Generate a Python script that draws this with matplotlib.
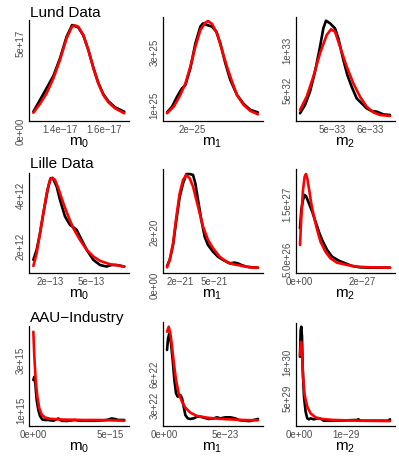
import numpy as np
import matplotlib
matplotlib.use('Agg')
import matplotlib.pyplot as plt

plt.rcParams['font.family'] = ['Liberation Sans', 'DejaVu Sans']
plt.rcParams['mathtext.fontset'] = 'custom'
plt.rcParams['mathtext.rm'] = 'Liberation Sans'
plt.rcParams['mathtext.it'] = 'Liberation Sans'

M = '\u2212'  # R draws '-' as a minus sign

row_titles = ['Lund Data', 'Lille Data', 'AAU' + M + 'Industry']
param_labels = [r'$m_0$', r'$m_1$', r'$m_2$']

# ---------------- Lund data ----------------
# m0: x in 1e-17, density in 1e17
lund_m0_x_emp = [1.279, 1.309, 1.339, 1.370, 1.400, 1.430, 1.455, 1.483, 1.506, 1.529, 1.552, 1.574, 1.597, 1.620, 1.650, 1.692]
lund_m0_y_emp = [0.36, 1.02, 1.69, 2.39, 3.39, 4.62, 5.28, 5.15, 4.70, 3.86, 2.85, 2.00, 1.35, 0.95, 0.61, 0.36]
lund_m0_x_fit = [1.279, 1.309, 1.339, 1.370, 1.400, 1.430, 1.453, 1.464, 1.483, 1.506, 1.529, 1.552, 1.574, 1.597, 1.620, 1.650, 1.692]
lund_m0_y_fit = [0.30, 0.80, 1.40, 2.25, 3.30, 4.53, 5.15, 5.28, 5.19, 4.72, 3.86, 2.82, 1.97, 1.31, 0.89, 0.55, 0.27]

# m1: x in 1e-25, density in 1e25
lund_m1_x_emp = [1.683, 1.746, 1.808, 1.871, 1.913, 1.975, 2.038, 2.100, 2.133, 2.183, 2.246, 2.300, 2.350, 2.413, 2.475, 2.558, 2.642, 2.725, 2.821]
lund_m1_y_emp = [0.22, 0.44, 0.81, 1.13, 1.25, 1.88, 2.81, 3.44, 3.56, 3.50, 3.44, 3.25, 2.81, 2.06, 1.44, 0.88, 0.54, 0.32, 0.22]
lund_m1_x_fit = [1.683, 1.767, 1.850, 1.913, 1.975, 2.038, 2.100, 2.163, 2.196, 2.246, 2.308, 2.371, 2.433, 2.496, 2.558, 2.642, 2.725, 2.821]
lund_m1_y_fit = [0.19, 0.44, 0.88, 1.31, 1.94, 2.69, 3.31, 3.59, 3.65, 3.54, 3.19, 2.56, 1.94, 1.38, 0.88, 0.50, 0.28, 0.15]

# m2: x in 1e-33, density in 1e32
lund_m2_x_emp = [4.172, 4.303, 4.433, 4.564, 4.695, 4.781, 4.851, 4.956, 5.086, 5.173, 5.304, 5.408, 5.521, 5.652, 5.783, 5.913, 6.044, 6.174, 6.348, 6.522]
lund_m2_y_emp = [0.46, 1.50, 3.17, 5.67, 8.79, 11.08, 12.04, 11.71, 11.08, 9.83, 7.13, 5.25, 3.79, 2.33, 1.71, 1.08, 0.75, 0.67, 0.33, 0.25]
lund_m2_x_fit = [4.172, 4.346, 4.520, 4.695, 4.869, 4.982, 5.086, 5.217, 5.391, 5.565, 5.739, 5.913, 6.087, 6.261, 6.522]
lund_m2_y_fit = [0.88, 2.54, 5.04, 7.96, 10.25, 10.96, 10.67, 8.79, 6.29, 4.21, 2.54, 1.29, 0.58, 0.25, 0.13]

# ---------------- Lille data ----------------
# m0: x in 1e-13, density in 1e12
lille_m0_x_emp = [0.80, 1.04, 1.28, 1.52, 1.88, 2.05, 2.24, 2.48, 2.72, 3.08, 3.44, 3.68, 3.92, 4.28, 4.64, 5.12, 5.60, 6.08, 6.44, 6.80, 7.35]
lille_m0_y_emp = [0.97, 1.36, 2.00, 2.77, 3.81, 4.13, 4.09, 3.81, 3.29, 2.65, 2.32, 2.23, 2.13, 1.74, 1.36, 0.97, 0.77, 0.71, 0.77, 0.77, 0.71]
lille_m0_x_fit = [0.80, 1.04, 1.28, 1.52, 1.76, 2.00, 2.17, 2.36, 2.60, 2.96, 3.32, 3.68, 4.16, 4.64, 5.12, 5.60, 6.32, 7.35]
lille_m0_y_fit = [0.73, 1.23, 2.00, 2.77, 3.55, 4.06, 4.15, 4.06, 3.74, 3.16, 2.65, 2.19, 1.74, 1.36, 1.10, 0.93, 0.80, 0.71]

# m1: x in 1e-21, density in 1e20
lille_m1_x_emp = [0.914, 1.143, 1.429, 1.714, 2.000, 2.286, 2.571, 2.857, 3.143, 3.343, 3.571, 3.857, 4.143, 4.429, 4.857, 5.286, 5.714, 6.286, 6.714, 7.000, 7.286, 7.714, 8.286, 8.714]
lille_m1_y_emp = [0.21, 0.44, 1.00, 1.94, 2.81, 3.31, 3.66, 3.66, 3.63, 3.31, 2.69, 1.94, 1.31, 1.00, 0.75, 0.56, 0.44, 0.31, 0.34, 0.31, 0.25, 0.19, 0.16, 0.15]
lille_m1_x_fit = [0.914, 1.143, 1.429, 1.714, 2.000, 2.286, 2.571, 2.857, 3.143, 3.429, 3.714, 4.000, 4.429, 4.857, 5.429, 6.000, 6.571, 7.429, 8.000, 8.714]
lille_m1_y_fit = [0.16, 0.44, 1.06, 2.06, 2.94, 3.44, 3.63, 3.50, 3.19, 2.69, 2.19, 1.69, 1.19, 0.88, 0.56, 0.38, 0.28, 0.21, 0.16, 0.15]

# m2: x in 1e-27, density in 1e26
lille_m2_x_emp = [0.033, 0.075, 0.128, 0.180, 0.233, 0.317, 0.422, 0.527, 0.632, 0.738, 0.896, 1.054, 1.264, 1.475, 1.685, 1.948, 2.264, 2.896]
lille_m2_y_emp = [7.49, 10.82, 12.64, 13.55, 13.24, 12.03, 10.51, 8.70, 6.88, 5.36, 3.55, 2.33, 1.61, 1.12, 0.64, 0.39, 0.33, 0.33]
lille_m2_x_fit = [0.033, 0.075, 0.128, 0.180, 0.222, 0.264, 0.317, 0.390, 0.475, 0.580, 0.685, 0.843, 1.001, 1.212, 1.527, 1.843, 2.264, 2.896]
lille_m2_y_fit = [4.45, 9.61, 14.45, 16.88, 17.36, 16.58, 14.76, 12.03, 9.61, 7.18, 5.06, 3.24, 2.03, 1.24, 0.82, 0.52, 0.39, 0.33]

# ---------------- AAU-Industry data ----------------
# m0: x in 1e-15, density in 1e15
aau_m0_x_emp = [0.0, 0.065, 0.130, 0.217, 0.326, 0.435, 0.587, 0.761, 0.978, 1.304, 1.630, 1.848, 2.174, 2.718, 3.044, 3.479, 4.131, 4.783, 5.110, 5.327, 5.544, 5.935]
aau_m0_y_emp = [1.67, 1.80, 1.53, 0.87, 0.47, 0.23, 0.09, 0.07, 0.07, 0.04, 0.13, 0.04, 0.03, 0.07, 0.04, 0.04, 0.04, 0.07, 0.13, 0.11, 0.07, 0.07]
aau_m0_x_fit = [0.0, 0.065, 0.152, 0.261, 0.391, 0.544, 0.761, 1.087, 1.739, 3.261, 4.348, 5.935]
aau_m0_y_fit = [3.60, 2.60, 1.67, 1.00, 0.53, 0.29, 0.17, 0.12, 0.09, 0.07, 0.07, 0.04]

# m1: x in 1e-23, density in 1e22
aau_m1_x_emp = [0.219, 0.300, 0.410, 0.546, 0.683, 0.820, 0.956, 1.093, 1.311, 1.448, 1.585, 1.721, 1.913, 2.131, 2.404, 2.678, 2.951, 3.224, 3.634, 4.044, 4.317, 4.590, 5.000, 5.410, 5.820, 6.093, 6.503, 7.049, 7.322, 7.678]
aau_m1_y_emp = [7.07, 8.19, 8.68, 7.71, 6.10, 4.16, 2.87, 2.55, 2.71, 2.39, 1.58, 0.77, 0.45, 0.39, 0.45, 0.61, 0.61, 0.52, 0.39, 0.45, 0.55, 0.45, 0.55, 0.55, 0.45, 0.29, 0.22, 0.19, 0.29, 0.39]
aau_m1_x_fit = [0.219, 0.355, 0.492, 0.628, 0.765, 0.956, 1.175, 1.448, 1.721, 2.131, 2.678, 3.497, 4.317, 5.410, 6.503, 7.678]
aau_m1_y_fit = [8.84, 9.32, 8.68, 7.39, 5.94, 4.16, 2.87, 2.06, 1.48, 1.00, 0.68, 0.52, 0.42, 0.35, 0.29, 0.26]

# m2: x in 1e-29, density in 1e29
aau_m2_x_emp = [0.022, 0.036, 0.050, 0.064, 0.078, 0.106, 0.141, 0.176, 0.210, 0.245, 0.315, 0.385, 0.455, 0.525, 0.735, 1.224, 1.259, 1.294, 1.889, 1.924]
aau_m2_y_emp = [8.86, 12.50, 12.96, 11.59, 7.50, 3.41, 1.36, 0.45, 0.32, 0.45, 0.32, 0.45, 0.41, 0.13, 0.13, 0.23, 0.32, 0.13, 0.13, 0.32]
aau_m2_x_fit = [0.022, 0.043, 0.064, 0.085, 0.120, 0.176, 0.245, 0.350, 0.490, 0.735, 1.294, 1.924]
aau_m2_y_fit = [9.09, 10.91, 9.77, 6.14, 3.64, 2.04, 1.14, 0.59, 0.36, 0.23, 0.13, 0.09]

# tick values (same units as above) and their labels
lund_m0_xticks, lund_m0_xlabels = [1.4, 1.6], ['1.4e' + M + '17', '1.6e' + M + '17']
lund_m0_yticks, lund_m0_ylabels = [0, 5], ['0e+00', '5e+17']
lund_m1_xticks, lund_m1_xlabels = [2], ['2e' + M + '25']
lund_m1_yticks, lund_m1_ylabels = [1, 3], ['1e+25', '3e+25']
lund_m2_xticks, lund_m2_xlabels = [5, 6], ['5e' + M + '33', '6e' + M + '33']
lund_m2_yticks, lund_m2_ylabels = [5, 10], ['5e+32', '1e+33']
lille_m0_xticks, lille_m0_xlabels = [2, 5], ['2e' + M + '13', '5e' + M + '13']
lille_m0_yticks, lille_m0_ylabels = [2, 4], ['2e+12', '4e+12']
lille_m1_xticks, lille_m1_xlabels = [2, 5], ['2e' + M + '21', '5e' + M + '21']
lille_m1_yticks, lille_m1_ylabels = [0, 2], ['0e+00', '2e+20']
lille_m2_xticks, lille_m2_xlabels = [0, 2], ['0e+00', '2e' + M + '27']
lille_m2_yticks, lille_m2_ylabels = [5, 15], ['5.0e+26', '1.5e+27']
aau_m0_xticks, aau_m0_xlabels = [0, 5], ['0e+00', '5e' + M + '15']
aau_m0_yticks, aau_m0_ylabels = [1, 3], ['1e+15', '3e+15']
aau_m1_xticks, aau_m1_xlabels = [0, 5], ['0e+00', '5e' + M + '23']
aau_m1_yticks, aau_m1_ylabels = [3, 6], ['3e+22', '6e+22']
aau_m2_xticks, aau_m2_xlabels = [0, 1], ['0e+00', '1e' + M + '29']
aau_m2_yticks, aau_m2_ylabels = [5, 10], ['5e+29', '1e+30']

# (row, col, x unit, y unit, empirical, fitted, ticks, y range)
panels = [
    (0, 0, 1e-17, 1e17, (lund_m0_x_emp, lund_m0_y_emp), (lund_m0_x_fit, lund_m0_y_fit),
     (lund_m0_xticks, lund_m0_xlabels, lund_m0_yticks, lund_m0_ylabels), (-0.17, 5.57)),
    (0, 1, 1e-25, 1e25, (lund_m1_x_emp, lund_m1_y_emp), (lund_m1_x_fit, lund_m1_y_fit),
     (lund_m1_xticks, lund_m1_xlabels, lund_m1_yticks, lund_m1_ylabels), (-0.10, 3.80)),
    (0, 2, 1e-33, 1e32, (lund_m2_x_emp, lund_m2_y_emp), (lund_m2_x_fit, lund_m2_y_fit),
     (lund_m2_xticks, lund_m2_xlabels, lund_m2_yticks, lund_m2_ylabels), (-0.5, 12.5)),
    (1, 0, 1e-13, 1e12, (lille_m0_x_emp, lille_m0_y_emp), (lille_m0_x_fit, lille_m0_y_fit),
     (lille_m0_xticks, lille_m0_xlabels, lille_m0_yticks, lille_m0_ylabels), (0.46, 4.33)),
    (1, 1, 1e-21, 1e20, (lille_m1_x_emp, lille_m1_y_emp), (lille_m1_x_fit, lille_m1_y_fit),
     (lille_m1_xticks, lille_m1_xlabels, lille_m1_yticks, lille_m1_ylabels), (-0.05, 3.85)),
    (1, 2, 1e-27, 1e26, (lille_m2_x_emp, lille_m2_y_emp), (lille_m2_x_fit, lille_m2_y_fit),
     (lille_m2_xticks, lille_m2_xlabels, lille_m2_yticks, lille_m2_ylabels), (-0.64, 18.27)),
    (2, 0, 1e-15, 1e15, (aau_m0_x_emp, aau_m0_y_emp), (aau_m0_x_fit, aau_m0_y_fit),
     (aau_m0_xticks, aau_m0_xlabels, aau_m0_yticks, aau_m0_ylabels), (-0.17, 3.83)),
    (2, 1, 1e-23, 1e22, (aau_m1_x_emp, aau_m1_y_emp), (aau_m1_x_fit, aau_m1_y_fit),
     (aau_m1_xticks, aau_m1_xlabels, aau_m1_yticks, aau_m1_ylabels), (-0.29, 9.78)),
    (2, 2, 1e-29, 1e29, (aau_m2_x_emp, aau_m2_y_emp), (aau_m2_x_fit, aau_m2_y_fit),
     (aau_m2_xticks, aau_m2_xlabels, aau_m2_yticks, aau_m2_ylabels), (-0.59, 13.46)),
]

W_PX, H_PX = 399, 458
col_left = [28.8, 162.5, 295.5]
col_width = [100, 100, 99]
row_top = [[20, 17, 17], [173, 169, 169], [326, 322, 323]]
row_bottom = [121, 273, 426]
title_base = [17, 168, 322]

fig = plt.figure(figsize=(W_PX / 100, H_PX / 100), dpi=100)

for r, c, xu, yu, emp, fit, ticks, yr in panels:
    top, bot = row_top[r][c], row_bottom[r]
    ax = fig.add_axes([col_left[c] / W_PX, 1 - bot / H_PX,
                       col_width[c] / W_PX, (bot - top) / H_PX])
    ax.plot(np.array(emp[0]) * xu, np.array(emp[1]) * yu, color='black', lw=1.9,
            solid_joinstyle='round', solid_capstyle='round')
    ax.plot(np.array(fit[0]) * xu, np.array(fit[1]) * yu, color='#FF0000', lw=1.9,
            solid_joinstyle='round', solid_capstyle='round')
    ax.margins(x=0.05)
    ax.set_ylim(yr[0] * yu, yr[1] * yu)

    xt, xl, yt, yl = ticks
    ax.set_xticks(np.array(xt) * xu)
    ax.set_xticklabels(xl)
    ax.set_yticks(np.array(yt) * yu)
    ax.set_yticklabels(yl)
    for lab in ax.get_yticklabels():
        lab.set_rotation(90)
        lab.set_va('top')
    ax.tick_params(axis='both', length=0, labelsize=7, labelcolor='#4D4D4D')
    ax.tick_params(axis='x', pad=3)
    ax.tick_params(axis='y', pad=2)

    for s in ['top', 'right']:
        ax.spines[s].set_visible(False)
    for s in ['left', 'bottom']:
        ax.spines[s].set_linewidth(0.9)
        ax.spines[s].set_color('black')

    ax.set_xlabel(param_labels[c], fontsize=11, labelpad=0)

for r, t in enumerate(row_titles):
    fig.text(30 / W_PX, 1 - title_base[r] / H_PX, t, fontsize=11,
             ha='left', va='baseline')

fig.savefig('out.png', dpi=100)
